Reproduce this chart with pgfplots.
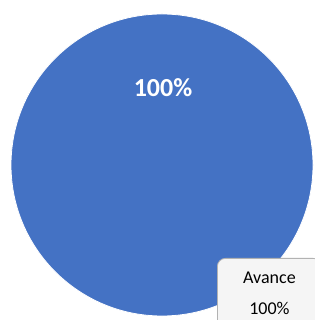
\documentclass[border=0pt]{standalone}
\usepackage{pgfplots}
\pgfplotsset{compat=1.18}
\usepackage{fontspec}
\setmainfont{Carlito}
\definecolor{pieblue}{HTML}{4472C4}
\begin{document}
\begin{tikzpicture}
\begin{axis}[scale only axis, width=314pt, height=320pt,
  xmin=0, xmax=314, ymin=0, ymax=320, hide axis, clip=false]
% single category: Avance = 100 %
\addplot[only marks, mark=*, mark size=151pt,
  mark options={fill=pieblue, draw=white, line width=0.8pt}] coordinates {(162,155)};
\addplot[draw=none, nodes near coords={\bfseries 100\%}, nodes near coords align=center,
  every node near coord/.style={text=white, font=\fontsize{26}{30}\selectfont}]
  coordinates {(163,232)};
\coordinate (boxpos) at (axis cs:217,62);
\end{axis}
\node[draw=gray!60, fill=gray!8, rounded corners=8pt, line width=0.8pt,
  anchor=north west, minimum width=104pt, minimum height=70pt, align=center,
  font=\fontsize{18}{31}\selectfont, inner sep=0pt] at (boxpos) {Avance\\100\%};
\pgfresetboundingbox
\useasboundingbox (current axis.south west) rectangle (current axis.north east);
\end{tikzpicture}
\end{document}
